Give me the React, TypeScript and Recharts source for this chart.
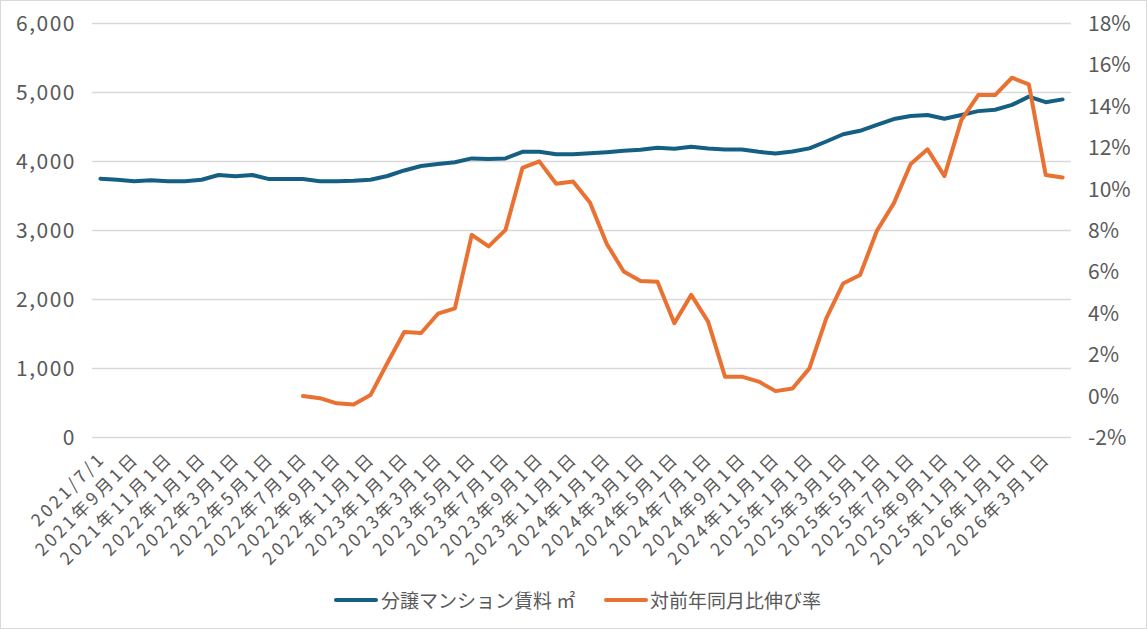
import React from "react";
import { LineChart, Line, XAxis, YAxis, CartesianGrid, Legend } from "recharts";

const months: string[] = [
  "2021/7/1", "2021年8月1日", "2021年9月1日", "2021年10月1日", "2021年11月1日", "2021年12月1日",
  "2022年1月1日", "2022年2月1日", "2022年3月1日", "2022年4月1日", "2022年5月1日", "2022年6月1日",
  "2022年7月1日", "2022年8月1日", "2022年9月1日", "2022年10月1日", "2022年11月1日", "2022年12月1日",
  "2023年1月1日", "2023年2月1日", "2023年3月1日", "2023年4月1日", "2023年5月1日", "2023年6月1日",
  "2023年7月1日", "2023年8月1日", "2023年9月1日", "2023年10月1日", "2023年11月1日", "2023年12月1日",
  "2024年1月1日", "2024年2月1日", "2024年3月1日", "2024年4月1日", "2024年5月1日", "2024年6月1日",
  "2024年7月1日", "2024年8月1日", "2024年9月1日", "2024年10月1日", "2024年11月1日", "2024年12月1日",
  "2025年1月1日", "2025年2月1日", "2025年3月1日", "2025年4月1日", "2025年5月1日", "2025年6月1日",
  "2025年7月1日", "2025年8月1日", "2025年9月1日", "2025年10月1日", "2025年11月1日", "2025年12月1日",
  "2026年1月1日", "2026年2月1日", "2026年3月1日", "2026年4月1日",
];

const rent: number[] = [
  3750, 3735, 3715, 3730, 3715, 3715, 3735, 3805, 3785, 3805, 3745, 3745,
  3745, 3715, 3715, 3720, 3735, 3790, 3870, 3935, 3965, 3990, 4045, 4035,
  4045, 4140, 4140, 4105, 4105, 4120, 4135, 4155, 4170, 4200, 4185, 4215,
  4190, 4175, 4175, 4140, 4115, 4145, 4190, 4290, 4395, 4445, 4530, 4615,
  4660, 4675, 4620, 4675, 4730, 4750, 4820, 4940, 4860, 4900,
];

const yoy: (number | null)[] = [
  null, null, null, null, null, null, null, null, null, null, null, null,
  0.0, -0.1, -0.35, -0.4, 0.05, 1.6, 3.1, 3.05, 3.98, 4.24, 7.79, 7.23,
  8.03, 11.02, 11.34, 10.26, 10.37, 9.35, 7.35, 6.02, 5.56, 5.53, 3.52, 4.89,
  3.6, 0.94, 0.94, 0.7, 0.24, 0.37, 1.34, 3.75, 5.44, 5.85, 7.99, 9.31,
  11.21, 11.92, 10.63, 13.33, 14.54, 14.54, 15.38, 15.06, 10.68, 10.56,
];

const leftTicks = [0, 1000, 2000, 3000, 4000, 5000, 6000];
const rightTicks = [-2, 0, 2, 4, 6, 8, 10, 12, 14, 16, 18];

const seriesNames = { rent: "分譲マンション賃料 ㎡", yoy: "対前年同月比伸び率" };
const colors = { rent: "#156082", yoy: "#E97132" };

const data = months.map((m, i) => ({ month: m, rent: rent[i], yoy: yoy[i] }));

const FONT = '"Noto Sans CJK JP", "Noto Sans", sans-serif';
const TEXT = "#595959";

const XTick = (props: any) => {
  const { x, y, payload } = props;
  return (
    <g transform={`translate(${x + 6},${y + 14})`}>
      <text
        x={0}
        y={0}
        transform="rotate(-45)"
        textAnchor="end"
        fill={TEXT}
        fontSize={17.5}
        fontFamily={FONT}
        letterSpacing={3}
      >
        {payload.value}
      </text>
    </g>
  );
};

const LegendContent = () => (
  <div style={{ position: "relative", height: 30, width: 1147, fontFamily: FONT, fontSize: 19, color: TEXT }}>
    <div style={{ position: "absolute", left: 334, top: 13, width: 44, height: 4, background: colors.rent, borderRadius: 2 }} />
    <div style={{ position: "absolute", left: 381, top: 2, whiteSpace: "nowrap", lineHeight: "26px" }}>{seriesNames.rent}</div>
    <div style={{ position: "absolute", left: 604, top: 13, width: 44, height: 4, background: colors.yoy, borderRadius: 2 }} />
    <div style={{ position: "absolute", left: 650, top: 2, whiteSpace: "nowrap", lineHeight: "26px" }}>{seriesNames.yoy}</div>
  </div>
);

export default function App() {
  return (
    <div
      style={{
        position: "absolute",
        left: 0,
        top: 0,
        width: 1147,
        height: 629,
        boxSizing: "border-box",
        border: "1px solid #d9d9d9",
        background: "#fff",
        overflow: "hidden",
      }}
    >
      <div style={{ position: "absolute", left: -1, top: -1 }}>
        <LineChart
          width={1147}
          height={629}
          data={data}
          margin={{ top: 23.5, right: 0, left: 0, bottom: 14 }}
        >
          <CartesianGrid yAxisId="left" vertical={false} stroke="#d9d9d9" strokeWidth={1.3} />
          <XAxis
            dataKey="month"
            interval={1}
            height={147.5}
            padding={{ left: 8.4, right: 8.4 }}
            axisLine={false}
            tickLine={false}
            tick={<XTick />}
          />
          <YAxis
            yAxisId="left"
            orientation="left"
            width={92}
            domain={[0, 6000]}
            ticks={leftTicks}
            axisLine={false}
            tickLine={false}
            tickMargin={10}
            tickFormatter={(v: number) => v.toLocaleString("en-US")}
            tick={{ fill: TEXT, fontSize: 21, fontFamily: FONT, letterSpacing: 1.5 }}
          />
          <YAxis
            yAxisId="right"
            orientation="right"
            width={76}
            domain={[-2, 18]}
            ticks={rightTicks}
            axisLine={false}
            tickLine={false}
            tickMargin={11}
            tickFormatter={(v: number) => `${v}%`}
            tick={{ fill: TEXT, fontSize: 21, fontFamily: FONT, textAnchor: "start" }}
          />
          <Legend verticalAlign="bottom" content={<LegendContent />} wrapperStyle={{ left: 0, width: 1147 }} />
          <Line
            yAxisId="left"
            type="linear"
            dataKey="rent"
            name={seriesNames.rent}
            stroke={colors.rent}
            strokeWidth={4}
            strokeLinejoin="round"
            strokeLinecap="round"
            dot={false}
            isAnimationActive={false}
          />
          <Line
            yAxisId="right"
            type="linear"
            dataKey="yoy"
            name={seriesNames.yoy}
            stroke={colors.yoy}
            strokeWidth={4}
            strokeLinejoin="round"
            strokeLinecap="round"
            dot={false}
            connectNulls={false}
            isAnimationActive={false}
          />
        </LineChart>
      </div>
    </div>
  );
}
